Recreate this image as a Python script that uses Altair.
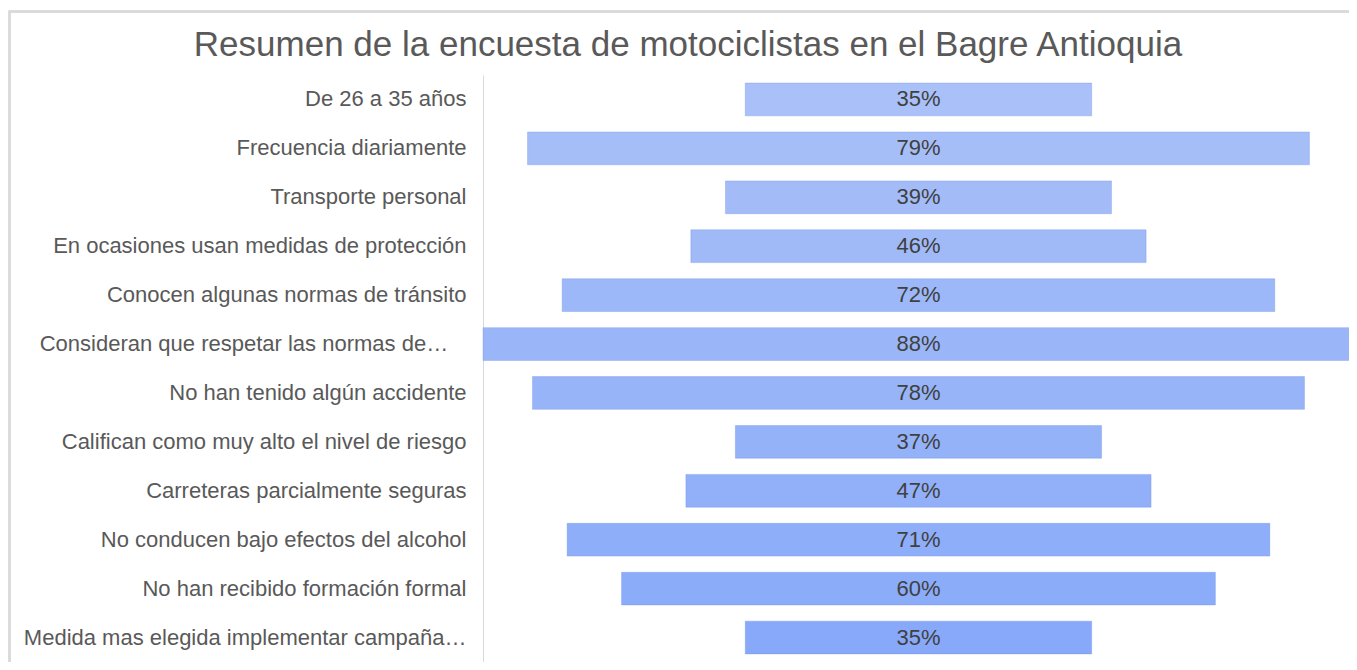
import altair as alt
import pandas as pd

categories = [
    "De 26 a 35 años",
    "Frecuencia diariamente",
    "Transporte personal",
    "En ocasiones usan medidas de protección",
    "Conocen algunas normas de tránsito",
    "Consideran que respetar las normas de…\u00a0\u00a0\u00a0\u200b",
    "No han tenido algún accidente",
    "Califican como muy alto el nivel de riesgo",
    "Carreteras parcialmente seguras",
    "No conducen bajo efectos del alcohol",
    "No han recibido formación formal",
    "Medida mas elegida implementar campaña…",
]
values = [35, 79, 39, 46, 72, 88, 78, 37, 47, 71, 60, 35]
bar_colors = [
    "#A9C0F8", "#A6BEF8", "#A3BCF8", "#A0BAF8", "#9DB8F8", "#9AB6F8",
    "#97B4F8", "#94B2F8", "#91B0F9", "#8EAEF9", "#8BACF9", "#88A9F9",
]

df = pd.DataFrame({"cat": categories, "val": values, "color": bar_colors})
df["label"] = df["val"].astype(str) + "%"

FONT = "Liberation Sans"

y_enc = alt.Y(
    "cat:N",
    sort=categories,
    scale=alt.Scale(paddingInner=0.33, paddingOuter=0.165),
    axis=alt.Axis(
        title=None,
        ticks=False,
        domain=True,
        domainColor="#d9d9d9",
        domainWidth=1,
        labelFont=FONT,
        labelFontSize=22,
        labelColor="#595959",
        labelPadding=17,
        labelLimit=480,
        grid=False,
    ),
)
x_scale = alt.Scale(domain=[-44, 43.5], nice=False, zero=False)

base = alt.Chart(df).transform_calculate(
    lo="-datum.val/2", hi="datum.val/2", mid="0"
)

bars = base.mark_bar(strokeWidth=1, strokeOpacity=0.35, stroke="#6f8fe8").encode(
    x=alt.X("lo:Q", scale=x_scale, axis=None),
    x2="hi:Q",
    y=y_enc,
    color=alt.Color("color:N", scale=None, legend=None),
)

texts = base.mark_text(font=FONT, fontSize=22, color="#404040", baseline="middle", align="center").encode(
    x=alt.X("mid:Q", scale=x_scale, axis=None),
    y=alt.Y("cat:N", sort=categories),
    text="label:N",
)

frame = alt.Chart(df).mark_rect(fill=None, stroke="#d9d9d9", strokeWidth=1.5).encode(
    x=alt.value(-473.5), x2=alt.value(880), y=alt.value(-63.5), y2=alt.value(620)
)

chart = (
    alt.layer(frame, bars, texts)
    .properties(
        width=866,
        height=587,
        autosize=alt.AutoSizeParams(type="none"),
        padding={"left": 475, "top": 67, "right": 0, "bottom": 0},
        title=alt.TitleParams(
            "Resumen de la encuesta de motociclistas en el Bagre Antioquia",
            font=FONT,
            fontSize=35,
            fontWeight="normal",
            color="#595959",
            anchor="middle",
            frame="group",
            dx=-228,
            dy=64,
            offset=12,
        ),
    )
    .configure_view(stroke=None)
)

chart.save("out.html", embed_options={"renderer": "svg", "actions": False})
